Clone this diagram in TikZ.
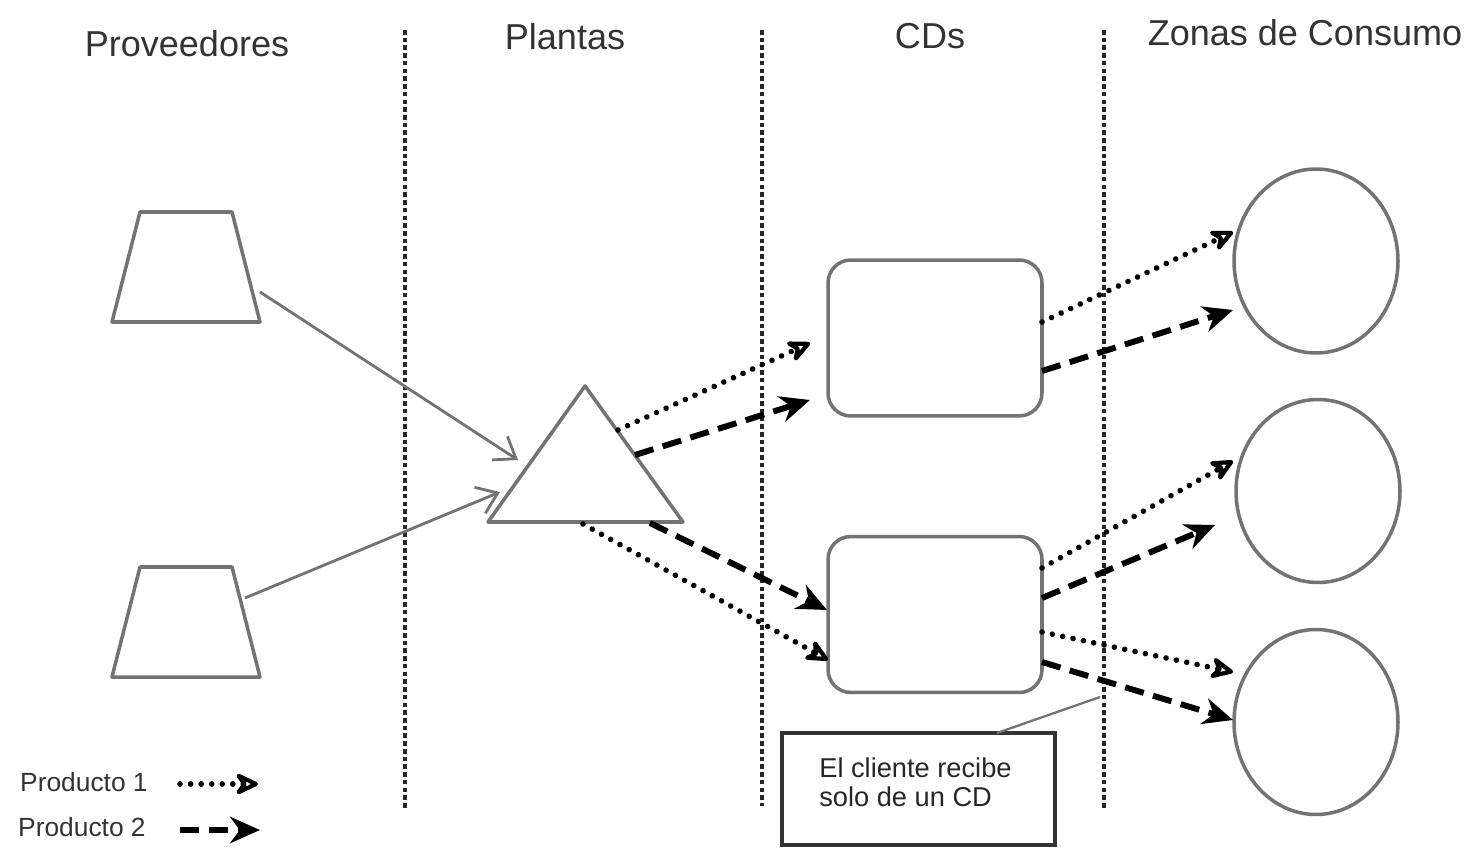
\documentclass[tikz,border=0pt]{standalone}
\usepackage{fontspec}
\setmainfont{Liberation Sans}
\usetikzlibrary{arrows.meta,shapes.geometric}
\definecolor{shapegray}{HTML}{737373}
\definecolor{titlegray}{HTML}{333333}
\tikzset{
  shapeline/.style={draw=shapegray, line width=2pt},
  divider/.style={line width=2.8pt, dash pattern=on 2.6pt off 1.8pt, black!85},
  prodone/.style={line width=3.2pt, line cap=round, dash pattern=on 0.01pt off 6pt, -{Stealth[open, length=16pt, width=15pt, line width=2.4pt, round]}},
  prodtwo/.style={line width=3.4pt, dash pattern=on 11pt off 5.5pt, -{Stealth[length=17pt, width=15pt]}},
  supply/.style={draw=shapegray, line width=1.6pt, -{Straight Barb[length=11pt, width=16pt, line width=1.6pt]}},
  title/.style={font=\fontsize{20.5}{24}\selectfont, text=titlegray},
  legend/.style={font=\fontsize{15}{18}\selectfont, text=titlegray, anchor=west},
  cdbox/.style={shapeline, rounded corners=13pt, minimum width=4.28cm, minimum height=3.12cm},
  zone/.style={shapeline, ellipse, minimum width=3.28cm, minimum height=3.68cm},
}
\begin{document}
\begin{tikzpicture}[x=0.02cm, y=-0.02cm]
\useasboundingbox (0,0) rectangle (1470,855);
% titles
\node[title] (tprov) at (187,44) {Proveedores};
\node[title] (tpla) at (565,37) {Plantas};
\node[title] (tcd) at (930,36) {CDs};
\node[title] (tzon) at (1305,33) {Zonas de Consumo};
% dividers
\coordinate (d1t) at (405,30); \coordinate (d1b) at (405,810);
\coordinate (d2t) at (762,30); \coordinate (d2b) at (762,806);
\coordinate (d3t) at (1104,30); \coordinate (d3b) at (1104,810);
\draw[divider] (d1t) -- (d1b);
\draw[divider] (d2t) -- (d2b);
\draw[divider] (d3t) -- (d3b);
% suppliers (trapezoids)
\draw[shapeline, line join=round] (140,212) -- (232,212) -- (260,322) -- (112,322) -- cycle;
\draw[shapeline, line join=round] (140,567) -- (232,567) -- (260,677) -- (112,677) -- cycle;
% plant (triangle)
\draw[shapeline, line join=round] (488,522) -- (585,386) -- (683,522) -- cycle;
% CDs
\node[cdbox] (cd1) at (935,338) {};
\node[cdbox] (cd2) at (935,614.5) {};
% zones
\node[zone, minimum height=3.68cm] (z1) at (1316,261) {};
\node[zone, minimum height=3.66cm] (z2) at (1318,491) {};
\node[zone, minimum height=3.70cm] (z3) at (1316,722) {};
% arrow end points
\coordinate (p1s) at (260,292); \coordinate (p1e) at (518,460);
\coordinate (p2s) at (245,598); \coordinate (p2e) at (500,492);
\coordinate (ta) at (618,430); \coordinate (tae) at (810,343);
\coordinate (tb) at (635,455); \coordinate (tbe) at (810,400);
\coordinate (tc) at (650,523); \coordinate (tce) at (827,610);
\coordinate (td) at (583,524); \coordinate (tde) at (828,660);
\coordinate (ca) at (1042,322); \coordinate (cae) at (1233,232);
\coordinate (cb) at (1042,371); \coordinate (cbe) at (1233,310);
\coordinate (cc) at (1042,568); \coordinate (cce) at (1233,461);
\coordinate (cdd) at (1042,598); \coordinate (cde) at (1215,525);
\coordinate (ce) at (1042,632); \coordinate (cee) at (1233,672);
\coordinate (cf) at (1042,662); \coordinate (cfe) at (1233,720);
% supply arrows
\draw[supply] (p1s) -- (p1e);
\draw[supply] (p2s) -- (p2e);
% plant to CDs
\draw[prodone] (ta) -- (tae);
\draw[prodtwo] (tb) -- (tbe);
\draw[prodtwo] (tc) -- (tce);
\draw[prodone] (td) -- (tde);
% CDs to zones
\draw[prodone] (ca) -- (cae);
\draw[prodtwo] (cb) -- (cbe);
\draw[prodone] (cc) -- (cce);
\draw[prodtwo] (cdd) -- (cde);
\draw[prodone] (ce) -- (cee);
\draw[prodtwo] (cf) -- (cfe);
% callout
\node[draw=black!80, line width=2pt, minimum width=5.46cm, minimum height=2.24cm, inner sep=0pt] (note) at (918.5,789) {};
\node[anchor=north west, align=left, font=\fontsize{15.5}{17}\selectfont, text=black!85, inner sep=0pt] (notetext) at (819,757) {El cliente recibe\\solo de un CD};
\coordinate (ptr) at (1100,697);
\coordinate (notetop) at (997,733);
\draw[shapegray, line width=1.3pt] (notetop) -- (ptr);
% legend
\node[legend] (l1) at (14,782) {Producto 1};
\node[legend] (l2) at (12,827) {Producto 2};
\coordinate (l1s) at (180,784); \coordinate (l1e) at (258,784);
\coordinate (l2s) at (180,830); \coordinate (l2e) at (260,830);
\draw[prodone] (l1s) -- (l1e);
\draw[prodtwo] (l2s) -- (l2e);
\end{tikzpicture}
\end{document}
